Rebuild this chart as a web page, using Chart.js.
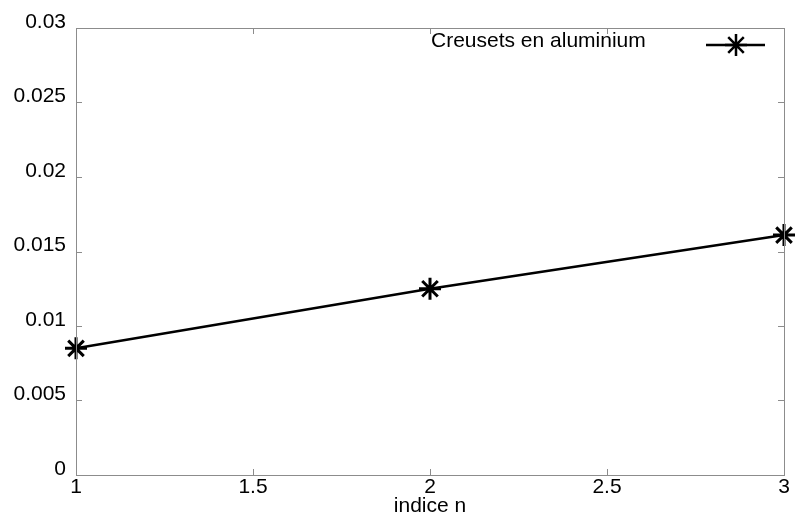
<!DOCTYPE html>
<html>
<head>
<meta charset="utf-8">
<script src="https://cdn.jsdelivr.net/npm/chart.js@4/dist/chart.umd.min.js"></script>
<style>
  html, body { margin: 0; padding: 0; background: #fff; }
  #wrap { width: 795px; height: 517px; }
</style>
</head>
<body>
<div id="wrap"><canvas id="chart" width="795" height="517"></canvas></div>
<script>
const indices = [1, 2, 3];
const aluminium = [0.0085, 0.0125, 0.0161];
const seriesLabel = "Creusets en aluminium";
const xTicks = [1, 1.5, 2, 2.5, 3];
const yTicks = [0, 0.005, 0.01, 0.015, 0.02, 0.025, 0.03];

const axisGray = "#8c8c8c";
const fontFamily = "'Liberation Sans', Arial, sans-serif";

// box round the plot, inward ticks on all four sides, legend top right
const frameAndLegend = {
    id: 'frameAndLegend',
    afterDraw(chart) {
        const ctx = chart.ctx;
        const a = chart.chartArea;
        const xs = chart.scales.x, ys = chart.scales.y;
        ctx.save();
        ctx.strokeStyle = axisGray;
        ctx.lineWidth = 1;
        ctx.strokeRect(a.left + 0.5, a.top + 0.5, a.right - a.left, a.bottom - a.top);
        ctx.beginPath();
        xTicks.forEach(v => {
            const px = Math.round(xs.getPixelForValue(v)) + 0.5;
            ctx.moveTo(px, a.bottom); ctx.lineTo(px, a.bottom - 6);
            ctx.moveTo(px, a.top); ctx.lineTo(px, a.top + 6);
        });
        yTicks.forEach(v => {
            const py = Math.round(ys.getPixelForValue(v)) + 0.5;
            ctx.moveTo(a.left, py); ctx.lineTo(a.left + 6, py);
            ctx.moveTo(a.right, py); ctx.lineTo(a.right - 6, py);
        });
        ctx.stroke();

        // legend entry: text then sample line with star
        ctx.fillStyle = "#000";
        ctx.font = "21px " + fontFamily;
        ctx.textBaseline = "middle";
        ctx.textAlign = "left";
        ctx.fillText(seriesLabel, 431, 41);
        ctx.strokeStyle = "#000";
        ctx.lineWidth = 2.5;
        ctx.beginPath();
        ctx.moveTo(706, 45); ctx.lineTo(765, 45);
        ctx.stroke();
        Chart.helpers.drawPoint(ctx, {pointStyle: 'star', radius: 11, rotation: 0, borderWidth: 3}, 736, 45);
        ctx.restore();
    }
};

new Chart(document.getElementById('chart'), {
    type: 'line',
    data: {
        datasets: [{
            label: seriesLabel,
            data: indices.map((n, i) => ({x: n, y: aluminium[i]})),
            borderColor: '#000',
            backgroundColor: '#000',
            borderWidth: 2.5,
            pointStyle: 'star',
            pointRadius: 11,
            pointBorderWidth: 3,
            pointBorderColor: '#000',
            fill: false,
            tension: 0,
            clip: false
        }]
    },
    options: {
        responsive: false,
        animation: false,
        layout: { autoPadding: false, padding: { top: 28, right: 11, left: 0, bottom: 0 } },
        plugins: {
            legend: { display: false },
            tooltip: { enabled: false }
        },
        scales: {
            x: {
                type: 'linear',
                min: 1, max: 3,
                afterBuildTicks: s => { s.ticks = xTicks.map(v => ({value: v})); },
                afterFit: s => { s.height = 42; s.paddingLeft = 0; s.paddingRight = 0; },
                grid: { display: false, drawTicks: false },
                border: { display: false },
                ticks: {
                    color: '#000',
                    font: { size: 21, family: fontFamily, lineHeight: 1 },
                    padding: 2,
                    maxRotation: 0,
                    callback: v => String(v)
                },
                title: {
                    display: true,
                    text: 'indice n',
                    color: '#000',
                    font: { size: 21, family: fontFamily, lineHeight: 1 },
                    padding: { top: 0, bottom: 0 }
                }
            },
            y: {
                type: 'linear',
                min: 0, max: 0.03,
                afterBuildTicks: s => { s.ticks = yTicks.map(v => ({value: v})); },
                afterFit: s => { s.width = 76; },
                grid: { display: false, drawTicks: false },
                border: { display: false },
                ticks: {
                    color: '#000',
                    font: { size: 21, family: fontFamily },
                    padding: 10,
                    labelOffset: -6,
                    callback: v => String(v)
                }
            }
        }
    },
    plugins: [frameAndLegend]
});
</script>
</body>
</html>
